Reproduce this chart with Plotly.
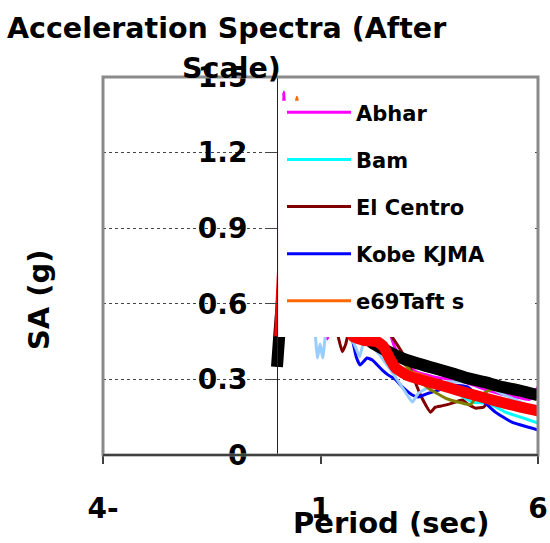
import plotly.graph_objects as go

# ---------------- data ----------------
abhar_T  = [0, 0.08, 0.15, 0.22, 0.3, 0.4, 0.5, 0.6, 0.7, 0.8, 0.9, 1.0, 1.1, 1.16, 1.22, 1.4, 1.6, 1.8, 2.0, 2.2, 2.4, 2.6, 2.7, 2.9, 3.2, 3.6, 4.0, 4.38, 4.8, 5.2, 5.5, 5.8, 6.0]
abhar_SA = [0.35, 1.05, 1.44, 1.25, 1.15, 1.05, 0.92, 0.85, 0.95, 0.78, 0.65, 0.58, 0.5, 0.46, 0.52, 0.62, 0.58, 0.64, 0.6, 0.56, 0.52, 0.48, 0.43, 0.37, 0.33, 0.31, 0.3, 0.285, 0.26, 0.24, 0.23, 0.22, 0.27]

bam_T  = [0, 0.1, 0.2, 0.3, 0.45, 0.6, 0.8, 1.0, 1.3, 1.6, 1.9, 2.2, 2.5, 2.8, 3.18, 3.57, 4.0, 4.49, 4.86, 5.25, 5.6, 6.0]
bam_SA = [0.35, 0.85, 1.1, 1.25, 1.0, 1.15, 0.9, 0.8, 0.7, 0.62, 0.55, 0.46, 0.37, 0.34, 0.315, 0.3, 0.26, 0.21, 0.205, 0.17, 0.15, 0.127]

elc_T  = [0, 0.1, 0.2, 0.3, 0.45, 0.6, 0.8, 1.0, 1.2, 1.35, 1.42, 1.5, 1.58, 1.66, 1.8, 2.0, 2.3, 2.6, 2.9, 3.1, 3.2, 3.35, 3.53, 3.64, 3.79, 4.03, 4.26, 4.4, 4.56, 4.75, 4.86, 5.2, 5.6, 6.0]
elc_SA = [0.35, 0.75, 1.1, 0.9, 1.2, 0.85, 0.95, 0.7, 0.6, 0.52, 0.46, 0.41, 0.44, 0.5, 0.56, 0.6, 0.55, 0.48, 0.4, 0.33, 0.28, 0.22, 0.17, 0.19, 0.195, 0.206, 0.218, 0.2, 0.186, 0.19, 0.21, 0.21, 0.2, 0.19]

kobe_T  = [0, 0.1, 0.2, 0.3, 0.4, 0.5, 0.6, 0.7, 0.8, 1.0, 1.2, 1.4, 1.6, 1.73, 1.82, 1.91, 2.07, 2.19, 2.42, 2.56, 2.72, 2.88, 3.11, 3.25, 3.48, 3.87, 4.1, 4.38, 4.72, 5.02, 5.4, 6.0]
kobe_SA = [0.35, 0.6, 0.9, 1.25, 1.1, 1.3, 1.0, 0.9, 0.8, 0.75, 0.65, 0.6, 0.52, 0.46, 0.39, 0.357, 0.385, 0.377, 0.337, 0.317, 0.3, 0.27, 0.238, 0.23, 0.245, 0.265, 0.277, 0.27, 0.218, 0.17, 0.13, 0.099]

taft_T  = [0, 0.1, 0.2, 0.3, 0.45, 0.6, 0.8, 1.0, 1.3, 1.6, 1.9, 2.2, 2.5, 2.9, 3.1, 3.6, 4.0, 4.4, 4.8, 5.2, 5.6, 6.0]
taft_SA = [0.35, 0.8, 1.0, 1.2, 1.42, 1.15, 0.95, 0.8, 0.68, 0.6, 0.52, 0.45, 0.37, 0.34, 0.33, 0.3, 0.27, 0.24, 0.22, 0.2, 0.185, 0.158]

lblue_T  = [0, 0.1, 0.2, 0.3, 0.5, 0.7, 0.85, 0.93, 0.99, 1.05, 1.13, 1.3, 1.5, 1.62, 1.69, 1.8, 1.9, 2.0, 2.3, 2.6, 2.72, 2.95, 3.11, 3.25, 3.5, 3.87, 4.38, 4.79, 5.2, 5.6, 6.0]
lblue_SA = [0.35, 0.7, 1.0, 0.9, 1.2, 0.8, 0.55, 0.385, 0.44, 0.385, 0.5, 0.6, 0.55, 0.5, 0.47, 0.43, 0.39, 0.45, 0.41, 0.34, 0.31, 0.25, 0.21, 0.245, 0.27, 0.29, 0.29, 0.277, 0.24, 0.21, 0.18]

olive_T  = [0, 0.1, 0.2, 0.35, 0.5, 0.7, 0.9, 1.2, 1.5, 1.8, 2.1, 2.5, 2.95, 3.2, 3.48, 3.87, 4.26, 4.45, 4.56, 4.8, 5.02, 5.25, 5.5, 5.78, 6.0]
olive_SA = [0.35, 0.8, 1.05, 0.95, 1.2, 1.0, 0.85, 0.7, 0.6, 0.53, 0.47, 0.42, 0.357, 0.31, 0.265, 0.226, 0.206, 0.2, 0.226, 0.25, 0.27, 0.277, 0.277, 0.25, 0.24]

mean_T  = [0, 0.3, 0.5, 0.7, 1.0, 1.3, 1.6, 1.9, 2.19, 2.5, 2.79, 3.2, 3.6, 4.0, 4.37, 4.8, 5.13, 5.6, 6.0]
mean_SA = [0.35, 0.875, 0.875, 0.875, 0.78, 0.66, 0.57, 0.5, 0.445, 0.415, 0.39, 0.365, 0.345, 0.325, 0.305, 0.288, 0.272, 0.255, 0.237]

target_T  = [0.06, 0.25, 0.5, 0.7, 1.0, 1.3, 1.55, 1.75, 2.0, 2.3, 2.45, 2.6, 2.73, 3.0, 3.48, 4.0, 4.38, 4.8, 5.25, 5.6, 6.0]
target_SA = [0.47, 1.05, 1.15, 1.05, 0.85, 0.65, 0.53, 0.47, 0.455, 0.45, 0.43, 0.38, 0.345, 0.315, 0.29, 0.265, 0.245, 0.225, 0.205, 0.19, 0.175]

x_tickvals = [-4, 1, 6]
x_ticktext = ["4-", "1", "6"]
y_tickvals = [0, 0.3, 0.6, 0.9, 1.2, 1.5]
y_ticktext = ["0", "0.3", "0.6", "0.9", "1.2", "1.5"]

FONT = "DejaVu Sans"

fig = go.Figure()

def add(T, SA, name, color, width, show=True):
    fig.add_trace(go.Scatter(
        x=T, y=SA, mode="lines", name=name, showlegend=show,
        legendgroup=name,
        line=dict(color=color, width=width, shape="spline", smoothing=0.4),
        hoverinfo="skip"))

add(abhar_T, abhar_SA, "Abhar", "#FF00FF", 3)
add(bam_T, bam_SA, "Bam", "#00FFFF", 3)
add(elc_T, elc_SA, "El Centro", "#800000", 3)
add(kobe_T, kobe_SA, "Kobe KJMA", "#0000FF", 3)
add(taft_T, taft_SA, "e69Taft s", "#FF6600", 3)
add(lblue_T, lblue_SA, "lb", "#99CCFF", 3, False)
add(olive_T, olive_SA, "ol", "#808000", 3, False)
add(mean_T, mean_SA, "mean", "#000000", 12, False)
add(target_T, target_SA, "target", "#FF0000", 11, False)

fig.update_layout(
    width=550, height=543, autosize=False,
    margin=dict(l=103, r=12, t=77, b=88, autoexpand=False),
    paper_bgcolor="white", plot_bgcolor="white",
    font=dict(family=FONT, color="black"),
    showlegend=True,
    legend=dict(
        x=0.4115, xanchor="left", y=0.354, yanchor="bottom",
        bgcolor="rgba(0,0,0,0)", borderwidth=0,
        font=dict(family=FONT, size=21, weight="bold", color="black"),
        itemwidth=64, tracegroupgap=16.8,
    ),
    xaxis=dict(
        range=[-4, 6], tickmode="array", tickvals=x_tickvals, ticktext=x_ticktext,
        showgrid=False, zeroline=False, showline=False, automargin=False,
        ticks="outside", ticklen=8, tickwidth=1.5, tickcolor="#404040",
        tickfont=dict(family=FONT, size=28, weight="bold", color="black"),
        ticklabelstandoff=20,
    ),
    yaxis=dict(
        range=[0, 1.5], tickmode="array", tickvals=y_tickvals, ticktext=y_ticktext,
        anchor="free", position=0.4, automargin=False,
        showgrid=True, gridcolor="#444444", griddash="dot", gridwidth=1,
        zeroline=False, showline=True, linecolor="#222222", linewidth=1,
        ticks="outside", ticklen=9, tickwidth=1, tickcolor="#444444",
        tickfont=dict(family=FONT, size=28, weight="bold", color="black"),
        ticklabelstandoff=15,
    ),
)

# white legend backdrop (the legend box of the original hides the curves behind it)
fig.add_shape(type="rect", xref="paper", yref="paper", x0=0.4025, x1=0.986, y0=0.312, y1=0.937,
              fillcolor="white", line=dict(width=0), layer="above")
# plot frame
fig.add_shape(type="rect", xref="paper", yref="paper", x0=0, x1=1, y0=0, y1=1,
              line=dict(color="#8a8a8a", width=3), layer="above")
fig.add_shape(type="line", xref="paper", yref="paper", x0=0, x1=1, y0=0, y1=0,
              line=dict(color="#404040", width=2), layer="above")

title_font = dict(family=FONT, size=28.5, weight="bold", color="black")
fig.add_annotation(text="Acceleration Spectra (After", xref="paper", yref="paper",
                   x=(226 - 103) / 435, y=1.1296, xanchor="center", yanchor="middle",
                   showarrow=False, font=title_font)
fig.add_annotation(text="Scale)", xref="paper", yref="paper",
                   x=(231 - 103) / 435, y=1.0238, xanchor="center", yanchor="middle",
                   showarrow=False, font=title_font)
fig.add_annotation(text="SA (g)", xref="paper", yref="paper", textangle=-90,
                   x=-0.147, y=0.41, xanchor="center", yanchor="middle", showarrow=False,
                   font=dict(family=FONT, size=29, weight="bold", color="black"))
fig.add_annotation(text="Period (sec)", xref="paper", yref="paper",
                   x=0.664, y=-0.18, xanchor="center", yanchor="middle", showarrow=False,
                   font=dict(family=FONT, size=29, weight="bold", color="black"))

fig.write_html("out.html",
               config={"displayModeBar": False, "responsive": False},
               post_script="document.body.style.margin='0';document.body.style.overflow='hidden';")
